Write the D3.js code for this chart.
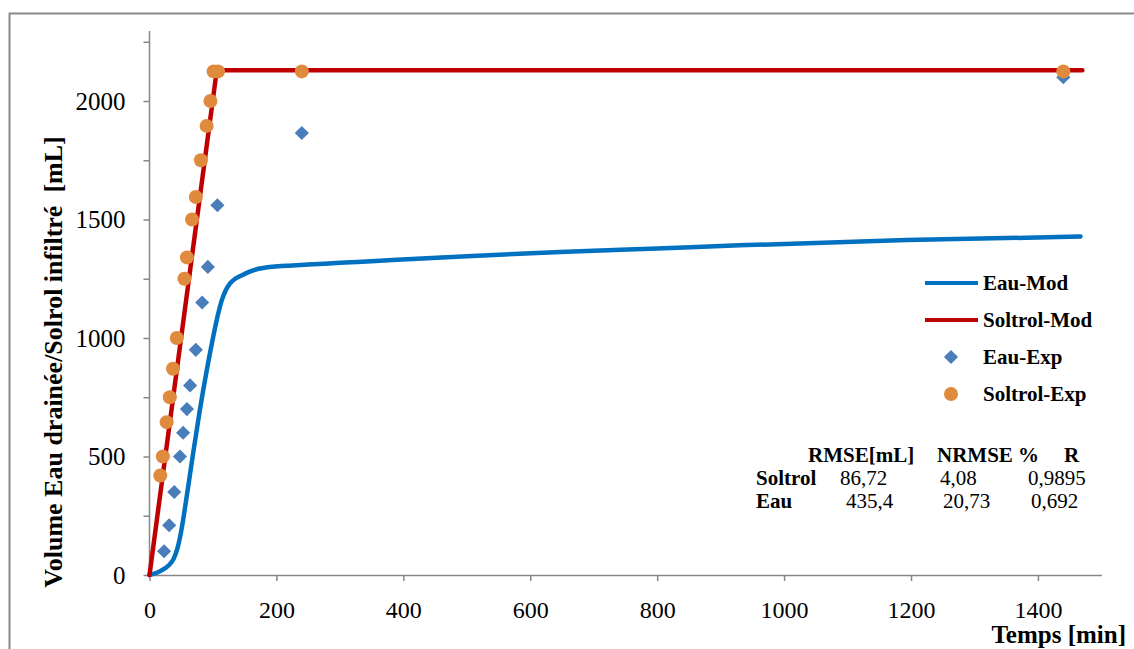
<!DOCTYPE html>
<html>
<head>
<meta charset="utf-8">
<script src="https://cdn.jsdelivr.net/npm/d3@7/dist/d3.min.js"></script>
<style>
  html, body { margin: 0; padding: 0; background: #fff; }
  svg { display: block; }
  text { font-family: "Liberation Serif", "Times New Roman", serif; fill: #000; }
</style>
</head>
<body>
<svg id="chart" width="1134" height="649"></svg>
<script>
// ---- Data ----
const eauModT = [0, 16, 30, 38, 44, 50, 58, 68, 79, 90, 100, 108, 114, 120, 127, 135, 145, 158, 172, 190, 215, 250, 300, 363, 500, 647, 800, 930, 1193, 1467];
const eauModV = [0, 15, 40, 68, 112, 185, 320, 500, 690, 860, 1000, 1100, 1160, 1200, 1230, 1250, 1264, 1280, 1292, 1300, 1305, 1310, 1317, 1326, 1345, 1363, 1378, 1391, 1413, 1428];

const solModT = [0, 106, 1470];
const solModV = [0, 2130, 2130];

const eauExpT = [23, 31, 39, 48, 53, 59, 64, 73, 83, 92, 107, 240, 1440];
const eauExpV = [100, 210, 350, 500, 600, 700, 800, 950, 1150, 1300, 1560, 1865, 2100];

const solExpT = [17, 21, 27, 32, 37, 43, 55, 59, 67, 73, 81, 90, 96, 101, 108, 240, 1440];
const solExpV = [420, 500, 645, 750, 870, 1000, 1250, 1340, 1500, 1595, 1750, 1895, 2000, 2125, 2125, 2125, 2125];

const xTicks = [0, 200, 400, 600, 800, 1000, 1200, 1400];
const yTicks = [0, 250, 500, 750, 1000, 1250, 1500, 1750, 2000, 2250];

const legendLabels = ["Eau-Mod", "Soltrol-Mod", "Eau-Exp", "Soltrol-Exp"];

const tableHeader = ["RMSE[mL]", "NRMSE %", "R"];
const tableRows = ["Soltrol", "Eau"];
const tableValues = [["86,72", "4,08", "0,9895"], ["435,4", "20,73", "0,692"]];

const xTitle = "Temps [min]";
const yTitle = "Volume Eau drainée/Solrol infiltré  [mL]";

// ---- Styles ----
const cEauLine = "#0070C0", cSolLine = "#C00000";
const cEauPt = "#4A7EBB", cSolPt = "#E08A3E";
const axisCol = "#868686";

const svg = d3.select("#chart");

// outer border
svg.append("rect").attr("x", 9.5).attr("y", 13.5).attr("width", 1200).attr("height", 700)
  .attr("fill", "none").attr("stroke", "#8a8a8a").attr("stroke-width", 2);

const x = d3.scaleLinear().domain([0, 1500]).range([149.5, 1101.4]);
const y = d3.scaleLinear().domain([0, 2250]).range([575, 41.75]);

// x axis
const gx = svg.append("g").attr("transform", "translate(0,575)")
  .call(d3.axisBottom(x).tickValues(xTicks).tickSize(6).tickSizeOuter(0).tickPadding(20).tickFormat(d3.format("d")));
gx.select(".domain").attr("stroke", axisCol).attr("stroke-width", 1.5);
gx.selectAll(".tick line").attr("stroke", axisCol).attr("stroke-width", 1.5);
gx.selectAll(".tick text").attr("font-size", 24).attr("font-family", "Liberation Serif");

// y axis
const gy = svg.append("g").attr("transform", "translate(149.5,0)")
  .call(d3.axisLeft(y).tickValues(yTicks).tickSize(6).tickSizeOuter(0).tickPadding(18)
    .tickFormat(d => (d % 500 === 0 && d <= 2000) ? d : ""));
gy.select(".domain").remove();
gy.append("line").attr("x1", 0).attr("x2", 0).attr("y1", 31).attr("y2", 575)
  .attr("stroke", axisCol).attr("stroke-width", 1.5);
gy.selectAll(".tick line").attr("stroke", axisCol).attr("stroke-width", 1.5);
gy.selectAll(".tick text").attr("font-size", 25).attr("font-family", "Liberation Serif");

// titles
svg.append("text").attr("x", 1126).attr("y", 643).attr("text-anchor", "end")
  .attr("font-size", 25).attr("font-weight", "bold").text(xTitle);
svg.append("text").attr("transform", "translate(62,362) rotate(-90)").attr("text-anchor", "middle")
  .attr("font-size", 26).attr("font-weight", "bold").style("white-space", "pre").text(yTitle);

// lines
const line = d3.line().x(d => x(d[0])).y(d => y(d[1])).curve(d3.curveMonotoneX);
const lineLin = d3.line().x(d => x(d[0])).y(d => y(d[1]));
svg.append("path").datum(d3.zip(eauModT, eauModV)).attr("d", line)
  .attr("fill", "none").attr("stroke", cEauLine).attr("stroke-width", 4.5)
  .attr("stroke-linecap", "round").attr("stroke-linejoin", "round");
svg.append("path").datum(d3.zip(solModT, solModV)).attr("d", lineLin)
  .attr("fill", "none").attr("stroke", cSolLine).attr("stroke-width", 4.5)
  .attr("stroke-linecap", "round").attr("stroke-linejoin", "round");

// markers
const diamond = d3.symbol().type(d3.symbolSquare).size(100);
svg.append("g").selectAll("path").data(d3.zip(eauExpT, eauExpV)).join("path")
  .attr("d", diamond)
  .attr("transform", d => `translate(${x(d[0])},${y(d[1])}) rotate(45)`)
  .attr("fill", cEauPt);
svg.append("g").selectAll("circle").data(d3.zip(solExpT, solExpV)).join("circle")
  .attr("cx", d => x(d[0])).attr("cy", d => y(d[1])).attr("r", 7)
  .attr("fill", cSolPt);

// legend
const lg = svg.append("g");
const legY = [283, 320, 357, 394];
lg.append("line").attr("x1", 925).attr("x2", 978).attr("y1", legY[0]).attr("y2", legY[0])
  .attr("stroke", cEauLine).attr("stroke-width", 4);
lg.append("line").attr("x1", 925).attr("x2", 978).attr("y1", legY[1]).attr("y2", legY[1])
  .attr("stroke", cSolLine).attr("stroke-width", 4);
lg.append("path").attr("d", diamond).attr("transform", `translate(951,${legY[2]}) rotate(45)`).attr("fill", cEauPt);
lg.append("circle").attr("cx", 951).attr("cy", legY[3]).attr("r", 7).attr("fill", cSolPt);
legendLabels.forEach((t, i) => {
  lg.append("text").attr("x", 983).attr("y", legY[i] + 7).attr("font-size", 21)
    .attr("font-weight", "bold").text(t);
});

// stats table
const tg = svg.append("g").attr("font-size", 21);
const headX = [808, 937, 1064];
tableHeader.forEach((t, i) => tg.append("text").attr("x", headX[i]).attr("y", 462).attr("font-weight", "bold").text(t));
const rowY = [485, 508];
const valX = [[840, 940, 1028], [846, 943, 1031]];
tableRows.forEach((r, j) => {
  tg.append("text").attr("x", 756).attr("y", rowY[j]).attr("font-weight", "bold").text(r);
  tableValues[j].forEach((v, i) => tg.append("text").attr("x", valX[j][i]).attr("y", rowY[j]).text(v));
});
</script>
</body>
</html>
